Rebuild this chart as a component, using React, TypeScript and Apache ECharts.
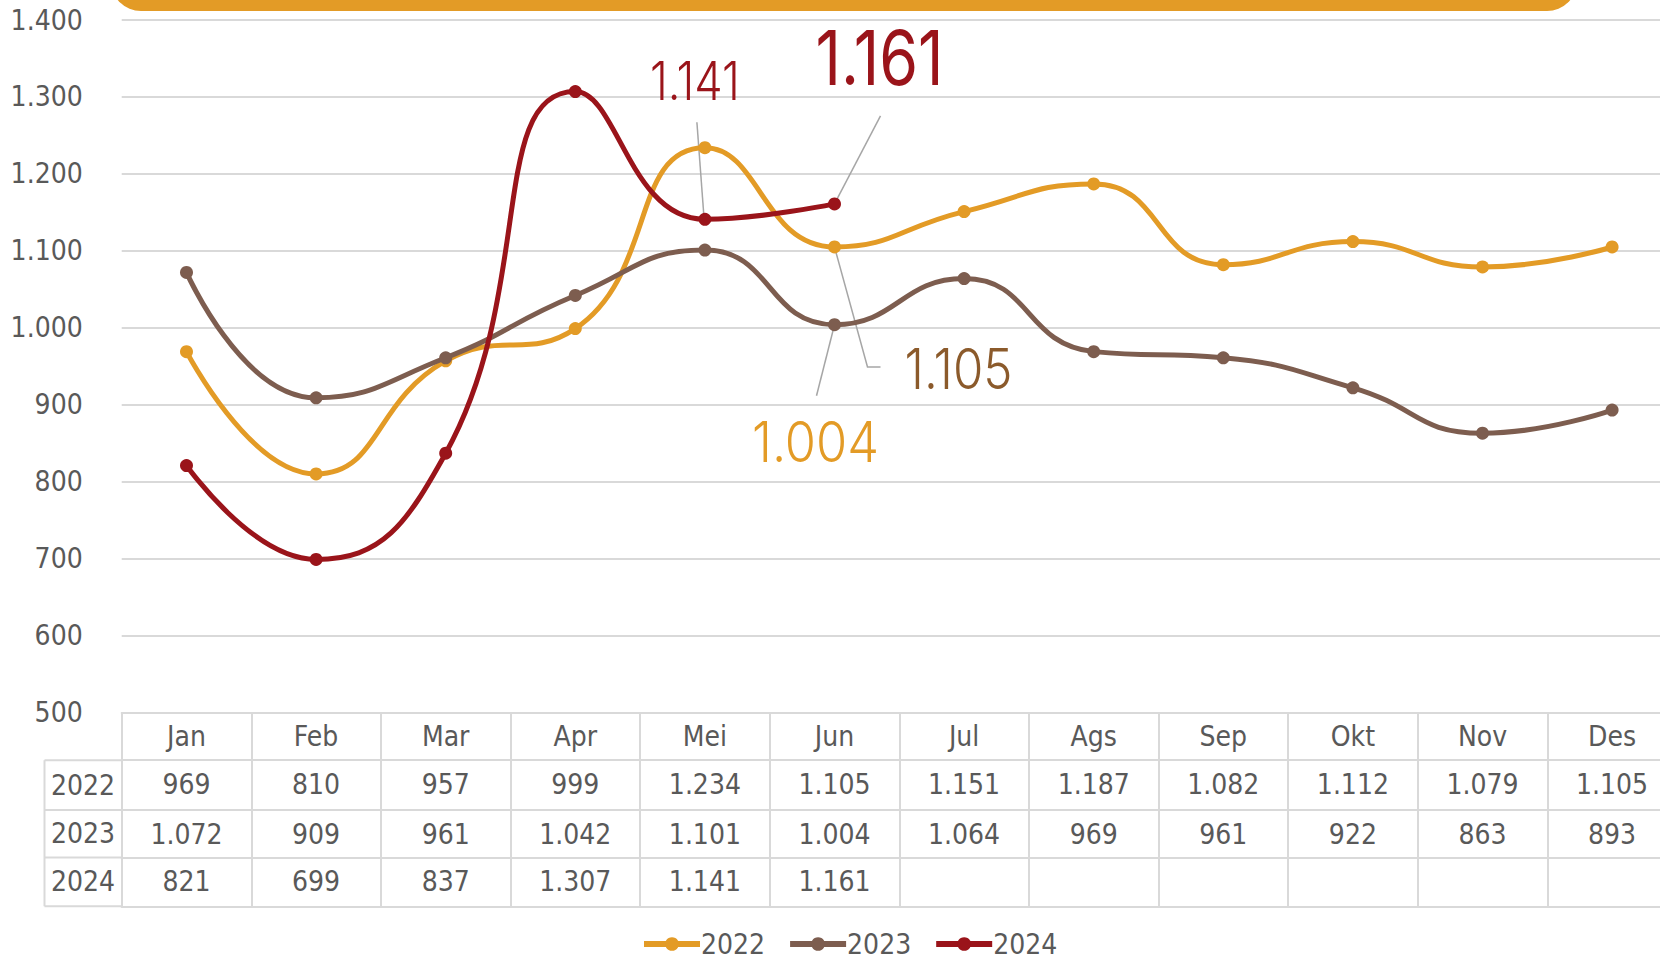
import React, { useEffect, useRef } from "react";
import * as echarts from "echarts";

const months = ["Jan", "Feb", "Mar", "Apr", "Mei", "Jun", "Jul", "Ags", "Sep", "Okt", "Nov", "Des"];
const years = ["2022", "2023", "2024"];
const v2022 = [969, 810, 957, 999, 1234, 1105, 1151, 1187, 1082, 1112, 1079, 1105];
const v2023 = [1072, 909, 961, 1042, 1101, 1004, 1064, 969, 961, 922, 863, 893];
const v2024 = [821, 699, 837, 1307, 1141, 1161, null, null, null, null, null, null];
const yMin = 500;
const yMax = 1400;
const yStep = 100;

const seriesValues = [v2022, v2023, v2024];
const colors = ["#E39B26", "#7D5D4F", "#9A141A"];

// callouts attached to a data point: series index, month index, style and offsets from the point
const callouts = [
  { s: 2, m: 4, color: "#9A141A", size: 53, weight: 300, width: 90, dx: -10, dy: -139, leader: [[-8, -97], [-1, -3]] },
  { s: 2, m: 5, color: "#9A141A", size: 75, weight: 400, width: 128, dx: 45, dy: -146, leader: [[0, 0], [46, -88]] },
  { s: 0, m: 5, color: "#8B5A2B", size: 56, weight: 300, width: 108, dx: 124, dy: 122, leader: [[0, 0], [33, 120], [46, 120]] },
  { s: 1, m: 5, color: "#E39B26", size: 56, weight: 300, width: 127, dx: -19, dy: 117, leader: [[0, 0], [-18, 71]] },
];

const FONT = "'Liberation Sans Narrow', 'DejaVu Sans Condensed', 'Liberation Sans', sans-serif";
const CALLOUT_FONT = "Inter, Lato, sans-serif";
const TEXT = "#595959";
const LINE = "#D9D9D9";

const fmt = (v: number | null) => {
  if (v == null) return "";
  if (v >= 1000) return Math.floor(v / 1000) + "." + String(v % 1000).padStart(3, "0");
  return String(v);
};

const GRID_LEFT = 121.7;
const GRID_TOP = 20;
const COL_W = 129.6;
const GRID_H = 692.5;
const ROW_OFFSETS = [47.7, 97.5, 145.1, 193.8];
const LABEL_COL_LEFT = 44.5;

function measure(text: string, font: string): number {
  const c = document.createElement("canvas").getContext("2d");
  if (!c) return 1;
  c.font = font;
  return c.measureText(text).width || 1;
}

export default function App() {
  const ref = useRef<HTMLDivElement>(null);
  useEffect(() => {
    if (!ref.current) return;
    const chart = echarts.init(ref.current, null, { renderer: "svg" });
    const gridBottomY = GRID_TOP + GRID_H;

    const xAxes: any[] = [
      {
        type: "category",
        data: months,
        position: "bottom",
        boundaryGap: true,
        axisLine: { show: true, lineStyle: { color: LINE, width: 2 } },
        axisTick: { show: true, interval: 0, length: ROW_OFFSETS[3], lineStyle: { color: LINE, width: 2 } },
        axisLabel: { interval: 0, margin: 24, verticalAlign: "middle", fontSize: 28, color: TEXT, fontFamily: FONT },
        splitLine: { show: false },
      },
    ];
    seriesValues.forEach((arr, r) => {
      xAxes.push({
        type: "category",
        data: months,
        position: "bottom",
        offset: ROW_OFFSETS[r],
        boundaryGap: true,
        axisLine: { show: true, lineStyle: { color: LINE, width: 2 } },
        axisTick: { show: false },
        axisLabel: {
          interval: 0,
          margin: 24,
          verticalAlign: "middle",
          fontSize: 28,
          color: TEXT,
          fontFamily: FONT,
          formatter: (_v: string, idx: number) => fmt(arr[idx]),
        },
      });
    });
    xAxes.push({
      type: "category",
      data: months,
      position: "bottom",
      offset: ROW_OFFSETS[3],
      boundaryGap: true,
      axisLine: { show: true, lineStyle: { color: LINE, width: 2 } },
      axisTick: { show: false },
      axisLabel: { show: false },
    });

    const graphics: any[] = [
      {
        type: "rect",
        shape: { x: 111, y: -50, width: 1466, height: 61, r: 30 },
        style: { fill: "#E39B26" },
        z: 10,
      },
    ];
    const lineYs = ROW_OFFSETS.map((o) => gridBottomY + o);
    lineYs.forEach((y) => {
      graphics.push({
        type: "line",
        shape: { x1: LABEL_COL_LEFT, y1: y, x2: GRID_LEFT, y2: y },
        style: { stroke: LINE, lineWidth: 2 },
      });
    });
    graphics.push({
      type: "line",
      shape: { x1: LABEL_COL_LEFT, y1: lineYs[0], x2: LABEL_COL_LEFT, y2: lineYs[3] },
      style: { stroke: LINE, lineWidth: 2 },
    });
    years.forEach((yr, r) => {
      graphics.push({
        type: "text",
        x: (LABEL_COL_LEFT + GRID_LEFT) / 2,
        y: (lineYs[r] + lineYs[r + 1]) / 2,
        style: { text: yr, fontSize: 28, fill: TEXT, fontFamily: FONT, align: "center", verticalAlign: "middle" },
      });
    });

    const series = seriesValues.map((arr, s) => ({
      name: years[s],
      type: "line",
      smooth: 0.5,
      symbol: "circle",
      symbolSize: 13,
      showSymbol: true,
      lineStyle: { width: 5, color: colors[s] },
      itemStyle: { color: colors[s] },
      data: arr,
      z: 2 + s,
    }));

    chart.setOption({
      animation: false,
      backgroundColor: "#FFFFFF",
      grid: { left: GRID_LEFT, top: GRID_TOP, width: COL_W * months.length, height: GRID_H, containLabel: false },
      xAxis: xAxes,
      yAxis: {
        type: "value",
        min: yMin,
        max: yMax,
        interval: yStep,
        axisLine: { show: false },
        axisTick: { show: false },
        splitLine: { show: true, lineStyle: { color: LINE, width: 2 } },
        axisLabel: { margin: 39, fontSize: 28, color: TEXT, fontFamily: FONT, formatter: (v: number) => fmt(v) },
      },
      legend: {
        data: years,
        left: 636,
        top: 925,
        padding: 5,
        itemWidth: 56,
        itemHeight: 17,
        itemGap: 22,
        lineStyle: { width: 6 },
        textStyle: { fontSize: 28, lineHeight: 26, color: TEXT, fontFamily: FONT, padding: [0, 0, 0, -4] },
      },
      graphic: graphics,
      series,
    });

    // callouts, placed relative to the data points through the chart's own scales
    const extra: any[] = [];
    callouts.forEach((c) => {
      const v = seriesValues[c.s][c.m];
      if (v == null) return;
      const p = chart.convertToPixel({ xAxisIndex: 0, yAxisIndex: 0 }, [c.m, v]) as number[];
      const text = fmt(v);
      const w = measure(text, `${c.weight} ${c.size}px Inter`);
      extra.push({
        type: "polyline",
        shape: { points: c.leader.map(([dx, dy]) => [p[0] + dx, p[1] + dy]) },
        style: { stroke: "#A6A6A6", lineWidth: 1.5, fill: null },
        z: 1,
      });
      extra.push({
        type: "text",
        x: p[0] + c.dx,
        y: p[1] + c.dy,
        scaleX: c.width / w,
        style: {
          text,
          fontSize: c.size,
          fontFamily: CALLOUT_FONT,
          fontWeight: c.weight,
          fill: c.color,
          align: "center",
          verticalAlign: "middle",
        },
        z: 20,
      });
    });
    chart.setOption({ graphic: [...graphics, ...extra] });

    return () => chart.dispose();
  }, []);
  return (
    <div style={{ position: "fixed", left: 0, top: 0, width: 1660, height: 960, overflow: "hidden" }}>
      <div ref={ref} style={{ width: 1720, height: 960 }} />
    </div>
  );
}
